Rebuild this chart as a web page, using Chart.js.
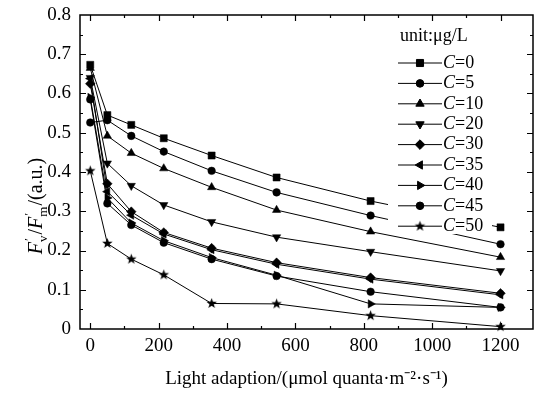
<!DOCTYPE html>
<html>
<head>
<meta charset="utf-8">
<script src="https://cdn.jsdelivr.net/npm/chart.js@4/dist/chart.umd.min.js"></script>
<style>
  html, body { margin: 0; padding: 0; background: #fff; }
  canvas { display: block; }
</style>
</head>
<body>
<canvas id="fvChart" width="534" height="398"></canvas>
<script>
// light intensity (x) and Fv'/Fm' for each concentration
const lightLevels = [0, 50, 120, 215, 355, 545, 820, 1200];
const concLabels = ['0', '5', '10', '20', '30', '35', '40', '45', '50'];
const c0  = [0.673, 0.545, 0.520, 0.486, 0.442, 0.386, 0.326, 0.259];
const c5  = [0.526, 0.532, 0.492, 0.452, 0.403, 0.348, 0.289, 0.216];
const c10 = [0.665, 0.492, 0.448, 0.409, 0.361, 0.303, 0.248, 0.183];
const c20 = [0.640, 0.422, 0.365, 0.316, 0.273, 0.234, 0.197, 0.148];
const c30 = [0.625, 0.370, 0.299, 0.246, 0.206, 0.169, 0.131, 0.091];
const c35 = [0.638, 0.350, 0.290, 0.242, 0.202, 0.165, 0.127, 0.087];
const c40 = [0.590, 0.334, 0.270, 0.225, 0.182, 0.137, 0.064, 0.055];
const c45 = [0.585, 0.320, 0.265, 0.220, 0.178, 0.135, 0.095, 0.055];
const c50 = [0.403, 0.218, 0.178, 0.138, 0.065, 0.064, 0.034, 0.006];
const xTicks = [0, 200, 400, 600, 800, 1000, 1200];
const yTicks = [0, 0.1, 0.2, 0.3, 0.4, 0.5, 0.6, 0.7, 0.8];

const SERIF = "'Liberation Serif', 'Times New Roman', serif";

// filled five point star used as a marker
function makeStar(r) {
    const c = document.createElement('canvas');
    const s = Math.ceil(r * 2 + 2);
    c.width = s; c.height = s;
    const g = c.getContext('2d');
    g.fillStyle = '#000';
    g.beginPath();
    for (let i = 0; i < 10; i++) {
        const rad = i % 2 === 0 ? r : r * 0.42;
        const a = -Math.PI / 2 + i * Math.PI / 5;
        const px = s / 2 + rad * Math.cos(a), py = s / 2 + rad * Math.sin(a);
        if (i === 0) g.moveTo(px, py); else g.lineTo(px, py);
    }
    g.closePath();
    g.fill();
    return c;
}
const starImg = makeStar(5.5);

const markers = [
    { pointStyle: 'rect', rotation: 0, radius: 5 },
    { pointStyle: 'circle', rotation: 0, radius: 3.8 },
    { pointStyle: 'triangle', rotation: 0, radius: 4.8 },
    { pointStyle: 'triangle', rotation: 180, radius: 4.8 },
    { pointStyle: 'rectRot', rotation: 0, radius: 4.8 },
    { pointStyle: 'triangle', rotation: 270, radius: 4.8 },
    { pointStyle: 'triangle', rotation: 90, radius: 4.8 },
    { pointStyle: 'circle', rotation: 0, radius: 3.8 },
    { pointStyle: starImg, rotation: 0, radius: 5 }
];
const seriesValues = [c0, c5, c10, c20, c30, c35, c40, c45, c50];

const datasets = seriesValues.map(function(vals, i) {
    return {
        label: 'C=' + concLabels[i],
        data: vals.map(function(v, j) { return { x: lightLevels[j], y: v }; }),
        borderColor: '#000',
        backgroundColor: '#000',
        borderWidth: 1,
        pointStyle: markers[i].pointStyle,
        pointRotation: markers[i].rotation,
        pointRadius: markers[i].radius,
        pointBorderWidth: 0.5,
        pointBorderColor: '#000',
        pointBackgroundColor: '#000',
        tension: 0,
        clip: false
    };
});

// frame, inward ticks, y title and the legend box
const decorPlugin = {
    id: 'decor',
    afterDraw(chart) {
        const ctx = chart.ctx;
        const a = chart.chartArea;
        const xs = chart.scales.x, ys = chart.scales.y;

        // legend with white background
        ctx.save();
        ctx.fillStyle = '#fff';
        ctx.fillRect(388, 20, 104, 214);
        ctx.fillStyle = '#000';
        ctx.textBaseline = 'middle';
        ctx.font = '18px ' + SERIF;
        ctx.fillText('unit:\u03bcg/L', 400, 36);
        chart.data.datasets.forEach(function(ds, i) {
            const y = 63 + i * 20.4;
            ctx.strokeStyle = '#000';
            ctx.lineWidth = 1;
            ctx.beginPath();
            ctx.moveTo(398, y); ctx.lineTo(442, y);
            ctx.stroke();
            ctx.fillStyle = '#000';
            Chart.helpers.drawPoint(ctx, {
                pointStyle: ds.pointStyle,
                rotation: ds.pointRotation,
                radius: ds.pointRadius,
                borderWidth: 0.5
            }, 420, y);
            ctx.fillStyle = '#000';
            ctx.font = 'italic 18px ' + SERIF;
            ctx.fillText('C', 443, y);
            const cw = ctx.measureText('C').width;
            ctx.font = '18px ' + SERIF;
            ctx.fillText('=' + concLabels[i], 443 + cw, y);
        });
        ctx.restore();

        ctx.save();
        ctx.strokeStyle = '#000';
        ctx.lineWidth = 1.5;
        ctx.strokeRect(a.left, a.top, a.right - a.left, a.bottom - a.top);

        ctx.lineWidth = 1.2;
        ctx.beginPath();
        for (let v = 0; v <= 1200; v += 100) {
            const px = Math.round(xs.getPixelForValue(v)) + 0.5;
            const len = v % 200 === 0 ? 6 : 3;
            ctx.moveTo(px, a.bottom); ctx.lineTo(px, a.bottom - len);
            ctx.moveTo(px, a.top); ctx.lineTo(px, a.top + len);
        }
        for (let k = 1; k < 16; k++) {
            const v = k * 0.05;
            const py = Math.round(ys.getPixelForValue(v)) + 0.5;
            const len = k % 2 === 0 ? 6 : 3;
            ctx.moveTo(a.left, py); ctx.lineTo(a.left + len, py);
            ctx.moveTo(a.right, py); ctx.lineTo(a.right - len, py);
        }
        ctx.stroke();

        // y axis title: F'v/F'm/(a.u.)
        ctx.translate(42, 206);
        ctx.rotate(-Math.PI / 2);
        ctx.fillStyle = '#000';
        ctx.textBaseline = 'alphabetic';
        const big = '20px ' + SERIF, bigIt = 'italic 20px ' + SERIF, small = '13px ' + SERIF;
        const parts = [
            { t: 'F', f: bigIt, sub: 'v' },
            { t: '/', f: big },
            { t: 'F', f: bigIt, sub: 'm' },
            { t: '/(a.u.)', f: big }
        ];
        let total = 0;
        parts.forEach(function(p) {
            ctx.font = p.f;
            p.w = ctx.measureText(p.t).width;
            if (p.sub) {
                ctx.font = small;
                p.w += Math.max(ctx.measureText(p.sub).width, 4) + 1;
            }
            total += p.w;
        });
        let cx = -total / 2;
        parts.forEach(function(p) {
            ctx.font = p.f;
            ctx.fillText(p.t, cx, 0);
            if (p.sub) {
                const fw = ctx.measureText(p.t).width;
                ctx.font = small;
                ctx.fillText('\u2032', cx + fw + 1, -9);
                ctx.fillText(p.sub, cx + fw, 5);
            }
            cx += p.w;
        });
        ctx.restore();
    }
};

new Chart(document.getElementById('fvChart').getContext('2d'), {
    type: 'line',
    data: { datasets: datasets },
    options: {
        responsive: false,
        animation: false,
        layout: { autoPadding: false, padding: { top: 15, right: 1, left: 0, bottom: 0 } },
        plugins: {
            legend: { display: false },
            tooltip: { enabled: false }
        },
        scales: {
            x: {
                type: 'linear',
                min: -30,
                max: 1295,
                afterBuildTicks: function(scale) {
                    scale.ticks = xTicks.map(function(v) { return { value: v }; });
                },
                afterFit: function(scale) {
                    scale.height = 69;
                    scale.paddingLeft = 0; scale.paddingRight = 0;
                },
                grid: { display: false, drawTicks: false },
                border: { display: false },
                ticks: {
                    color: '#000',
                    padding: 6,
                    maxRotation: 0,
                    font: { family: SERIF, size: 19 },
                    callback: function(v) { return String(v); }
                },
                title: {
                    display: true,
                    text: 'Light adaption/(\u03bcmol quanta\u00b7m\u207b\u00b2\u00b7s\u207b\u00b9)',
                    color: '#000',
                    padding: { top: 0, bottom: 8 },
                    font: { family: SERIF, size: 19 }
                }
            },
            y: {
                type: 'linear',
                min: 0,
                max: 0.8,
                afterBuildTicks: function(scale) {
                    scale.ticks = yTicks.map(function(v) { return { value: v }; });
                },
                afterFit: function(scale) {
                    scale.width = 80;
                    scale.paddingTop = 0; scale.paddingBottom = 0;
                },
                grid: { display: false, drawTicks: false },
                border: { display: false },
                ticks: {
                    color: '#000',
                    padding: 9,
                    font: { family: SERIF, size: 19 },
                    callback: function(v) { return v === 0 ? '0' : v.toFixed(1); }
                }
            }
        }
    },
    plugins: [decorPlugin]
});
</script>
</body>
</html>
